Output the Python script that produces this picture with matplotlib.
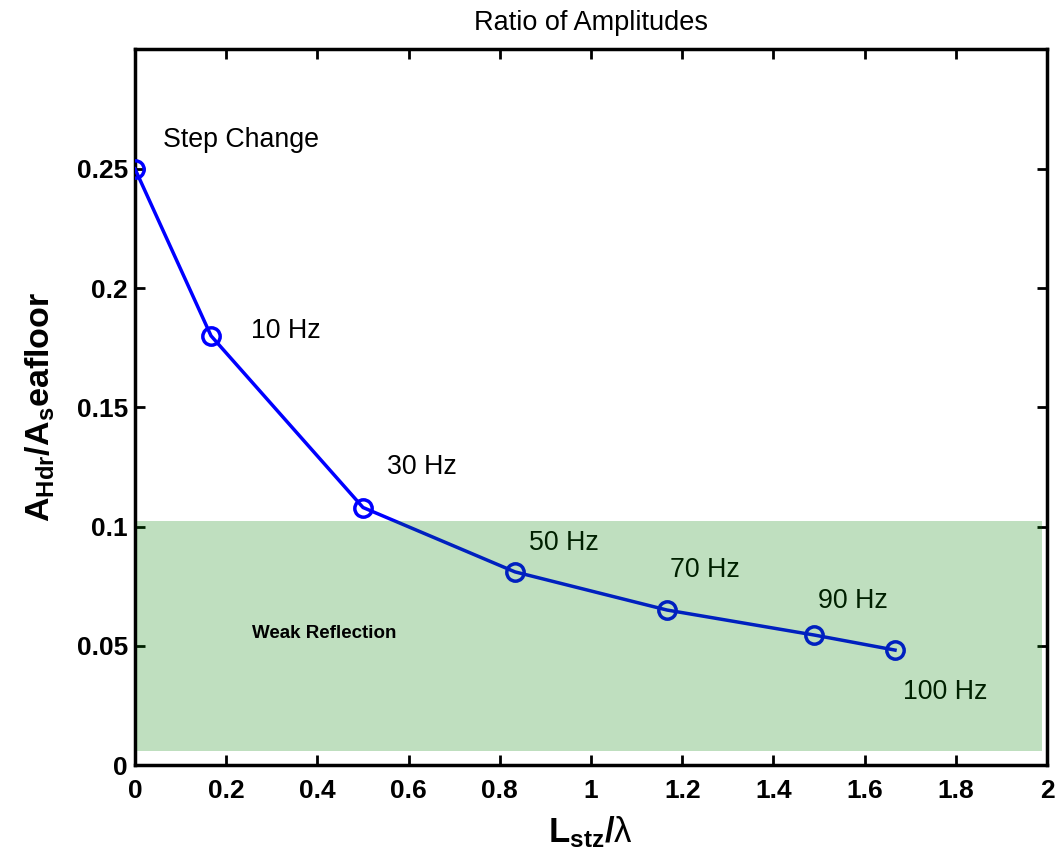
import matplotlib
matplotlib.use("Agg")
import matplotlib.pyplot as plt
from matplotlib.patches import Rectangle

plt.rcParams['font.family'] = ['Liberation Sans', 'DejaVu Sans']
plt.rcParams['mathtext.fontset'] = 'custom'
plt.rcParams['mathtext.rm'] = 'Liberation Sans'
plt.rcParams['mathtext.bf'] = 'Liberation Sans:bold'
plt.rcParams['mathtext.it'] = 'Liberation Sans:italic'

# data
ratio = [0, 0.1667, 0.5, 0.8333, 1.1667, 1.49, 1.6667]
amp = [0.25, 0.18, 0.108, 0.081, 0.065, 0.0545, 0.0482]

labels = ['Step Change', '10 Hz', '30 Hz', '50 Hz', '70 Hz', '90 Hz', '100 Hz']
label_x = [0.061, 0.254, 0.553, 0.864, 1.173, 1.498, 1.684]
label_y = [0.262, 0.182, 0.125, 0.093, 0.0818, 0.0688, 0.0306]

xticks = [0, 0.2, 0.4, 0.6, 0.8, 1, 1.2, 1.4, 1.6, 1.8, 2]
xticklabels = ['0', '0.2', '0.4', '0.6', '0.8', '1', '1.2', '1.4', '1.6', '1.8', '2']
yticks = [0, 0.05, 0.1, 0.15, 0.2, 0.25]
yticklabels = ['0', '0.05', '0.1', '0.15', '0.2', '0.25']

# weak reflection band
band_x = (0.005, 1.99)
band_y = (0.006, 0.1023)

fig = plt.figure(figsize=(10.58, 8.59), dpi=100)
ax = fig.add_axes([0.1276, 0.1094, 0.862, 0.8336])

ax.plot(ratio, amp, color=(0, 0, 1), linewidth=2.5, marker='o', markersize=12.5,
        markerfacecolor='none', markeredgewidth=2.5, zorder=3)

for t, x, y in zip(labels, label_x, label_y):
    ax.text(x, y, t, fontsize=19.3, va='center', ha='left', zorder=2)

ax.add_patch(Rectangle((band_x[0], band_y[0]), band_x[1] - band_x[0], band_y[1] - band_y[0],
                       facecolor=(0, 0.5, 0), alpha=0.25, edgecolor='none', zorder=4))
ax.text(0.257, 0.055, 'Weak Reflection', fontsize=13.5, fontweight='bold',
        va='center', ha='left', zorder=5)

ax.set_xlim(0, 2)
ax.set_ylim(0, 0.3003)
ax.set_xticks(xticks)
ax.set_xticklabels(xticklabels)
ax.set_yticks(yticks)
ax.set_yticklabels(yticklabels)
ax.tick_params(direction='in', length=7, width=2, top=True, right=True,
               labelsize=19)
ax.tick_params(axis='x', pad=10)
ax.tick_params(axis='y', pad=5)
for lab in ax.get_xticklabels() + ax.get_yticklabels():
    lab.set_fontweight('bold')
for s in ax.spines.values():
    s.set_linewidth(2.5)

ax.set_title('Ratio of Amplitudes', fontsize=19.5, pad=14)
ax.set_xlabel(r'$\mathbf{L_{stz}/}\mathrm{\lambda}$', fontsize=25, labelpad=8)
ax.set_ylabel(r'$\mathbf{A_{Hdr}/A_{s}eafloor}$', fontsize=24.5, labelpad=14)

fig.savefig('out.png', dpi=100)
